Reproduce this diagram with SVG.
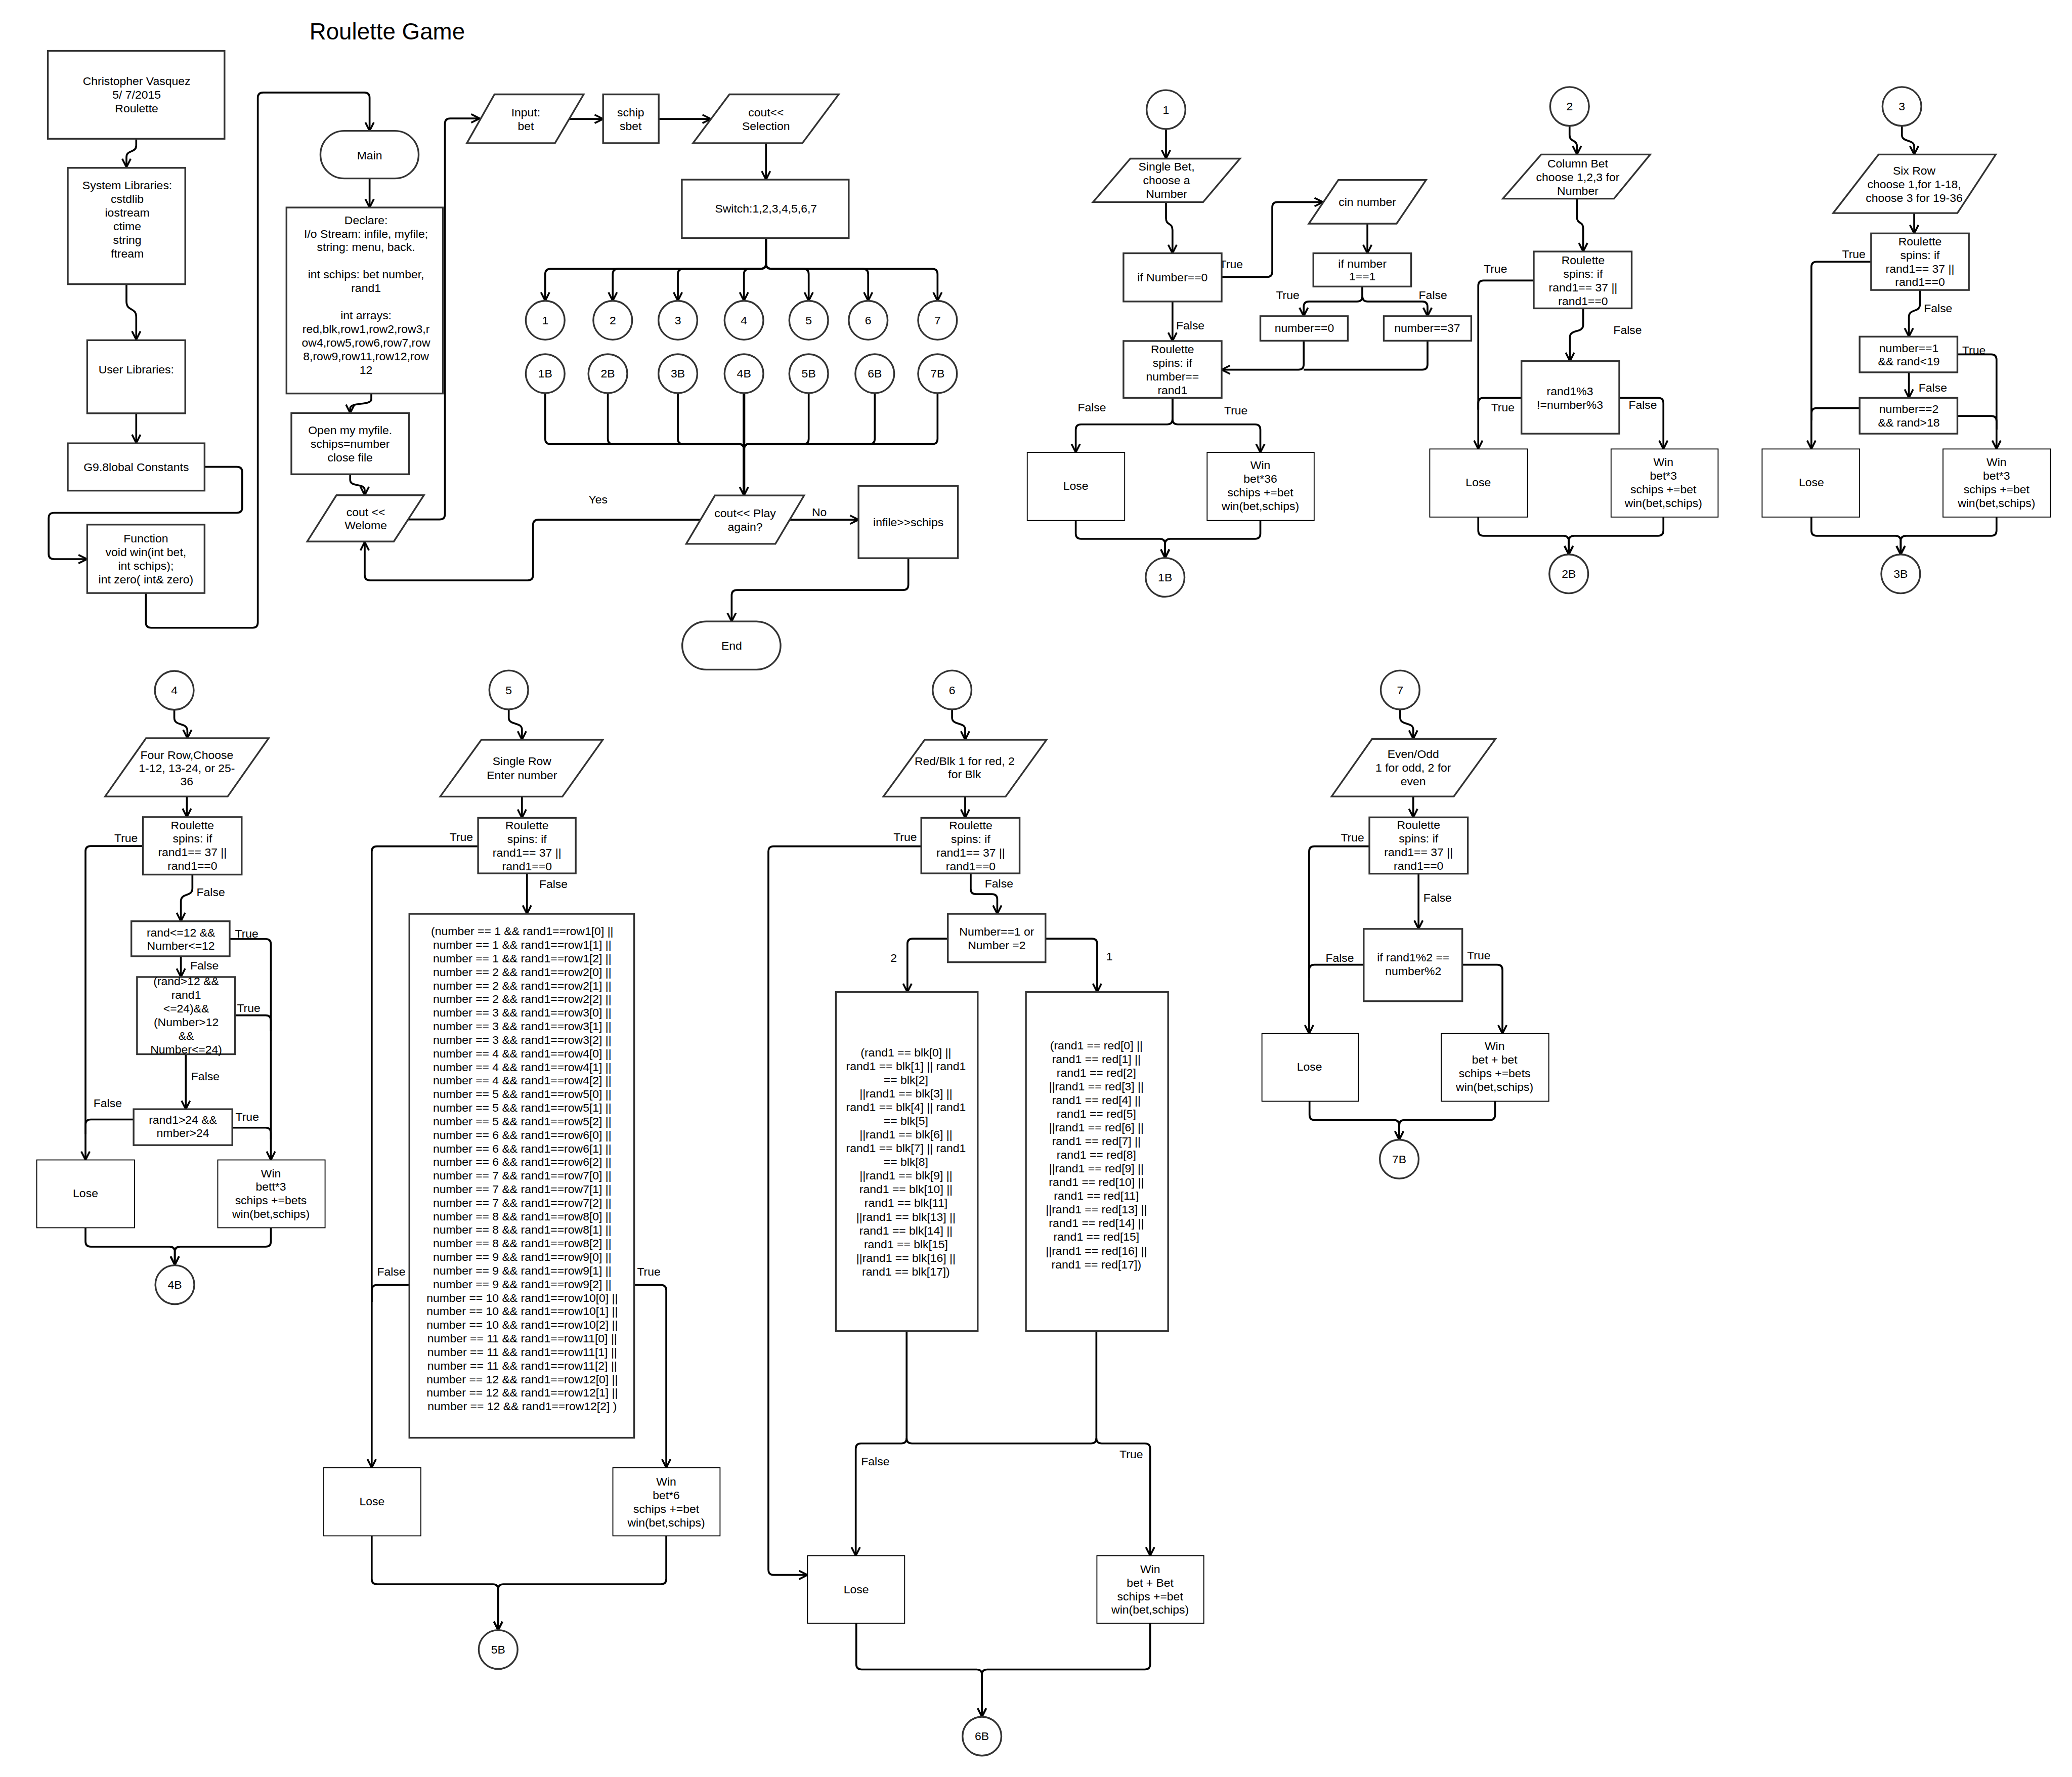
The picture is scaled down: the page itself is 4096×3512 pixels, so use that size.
<svg xmlns="http://www.w3.org/2000/svg" width="4096" height="3512" viewBox="0 0 4096 3512">
<defs>
<marker id="ah" markerUnits="userSpaceOnUse" viewBox="0 0 10 10" markerWidth="8" markerHeight="8" refX="9" refY="5" orient="auto">
<path d="M1,1 L9,5 L1,9" fill="none" stroke="#000" stroke-width="1.7" stroke-linejoin="miter"/>
</marker>
<style>
.n{fill:#fff;stroke:#333;stroke-width:1.3}
.w{fill:#fff;stroke:#000;stroke-width:0.7}
.c{fill:none;stroke:#000;stroke-width:1.4;marker-end:url(#ah)}
.l{fill:none;stroke:#000;stroke-width:1.4}
text{font-family:"Liberation Sans",Arial,Helvetica,sans-serif;font-size:8.8px;fill:#000;text-anchor:middle;dominant-baseline:central}
.title{font-size:17.5px}
</style>
</defs>
<rect x="0" y="0" width="4096" height="3512" fill="#fff"/>
<g transform="scale(2.6122)">
<g id="n-title"><text class="title" x="293" y="24">Roulette Game</text></g>

<g id="connectors">
<path class="c" d="M103.1 105 V110 C103.1 116 95.7 113 95.7 119 V126.5"/>
<path class="c" d="M95.7 215 V228 C95.7 236 103.1 232 103.1 240 V257"/>
<path class="c" d="M103.1 312.7 V335.2"/>
<path class="c" d="M154.8 353.2 H179.3 Q183.3 353.2 183.3 357.2 V384 Q183.3 388 179.3 388 H40.8 Q36.8 388 36.8 392 V419 Q36.8 423 40.8 423 H65.8"/>
<path class="c" d="M110.4 448.7 V471 Q110.4 475 114.4 475 H191.1 Q195.1 475 195.1 471 V74 Q195.1 70 199.1 70 H275.7 Q279.7 70 279.7 74 V99"/>
<path class="c" d="M279.7 135 V157"/>
<path class="c" d="M281 297.7 V302 C281 307 265 304 265 309 V312.5"/>
<path class="c" d="M265 358.8 V363 C265 369 276 365 276 371 V374.7"/>
<path class="c" d="M309 393 H332.7 Q336.7 393 336.7 389 V93.6 Q336.7 89.6 340.7 89.6 H363"/>
<path class="c" d="M430.8 90 H456.4"/>
<path class="c" d="M498.5 90 H538"/>
<path class="c" d="M579.7 108.3 V135.9"/>
<path class="c" d="M579.7 180.1 V199.4 Q579.7 203.4 575.7 203.4 H416.6 Q412.6 203.4 412.6 207.4 V227.6"/>
<path class="c" d="M579.7 180.1 V199.4 Q579.7 203.4 575.7 203.4 H467.7 Q463.7 203.4 463.7 207.4 V227.6"/>
<path class="c" d="M579.7 180.1 V199.4 Q579.7 203.4 575.7 203.4 H517 Q513 203.4 513 207.4 V227.6"/>
<path class="c" d="M579.7 180.1 V199.4 Q579.7 203.4 575.7 203.4 H567 Q563 203.4 563 207.4 V227.6"/>
<path class="c" d="M579.7 180.1 V199.4 Q579.7 203.4 583.7 203.4 H608 Q612 203.4 612 207.4 V227.6"/>
<path class="c" d="M579.7 180.1 V199.4 Q579.7 203.4 583.7 203.4 H653 Q657 203.4 657 207.4 V227.6"/>
<path class="c" d="M579.7 180.1 V199.4 Q579.7 203.4 583.7 203.4 H705.5 Q709.5 203.4 709.5 207.4 V227.6"/>
<path class="l" d="M412.6 297.4 V332 Q412.6 336 416.6 336 H559 Q563 336 563 340 V370"/>
<path class="l" d="M460 297.4 V332 Q460 336 464 336 H559 Q563 336 563 340 V370"/>
<path class="l" d="M513 297.4 V332 Q513 336 517 336 H559 Q563 336 563 340 V370"/>
<path class="l" d="M612 297.4 V332 Q612 336 608 336 H567 Q563 336 563 340 V370"/>
<path class="l" d="M662 297.4 V332 Q662 336 658 336 H567 Q563 336 563 340 V370"/>
<path class="l" d="M709.5 297.4 V332 Q709.5 336 705.5 336 H567 Q563 336 563 340 V370"/>
<path class="c" d="M563 297.4 V374.9" style="stroke-width:2"/>
<path class="c" d="M530.2 393.2 H407.4 Q403.4 393.2 403.4 397.2 V435.1 Q403.4 439.1 399.4 439.1 H280 Q276 439.1 276 435.1 V410"/>
<path class="c" d="M597.6 393.2 H649.7"/>
<path class="c" d="M687.4 422.3 V442.4 Q687.4 446.4 683.4 446.4 H557.7 Q553.7 446.4 553.7 450.4 V470.2"/>

<path class="c" d="M882.4 97.6 V120"/>
<path class="c" d="M882.4 146 V165 C882.4 171 887.3 168 887.3 174 V191.6"/>
<path class="c" d="M924.5 209.6 H958.8 Q962.8 209.6 962.8 205.6 V156.9 Q962.8 152.9 966.8 152.9 H1001.2"/>
<path class="c" d="M1034.8 169.2 V191.6"/>
<path class="c" d="M1031 216.8 V224.1 Q1031 228.1 1027 228.1 H990.6 Q986.6 228.1 986.6 232.1 V239.2"/>
<path class="c" d="M1031 216.8 V224.1 Q1031 228.1 1035 228.1 H1076.3 Q1080.3 228.1 1080.3 232.1 V239.2"/>
<path class="c" d="M986.6 257.8 V275.7 Q986.6 279.7 982.6 279.7 H924.5"/>
<path class="l" d="M1080.3 257.8 V275.7 Q1080.3 279.7 1076.3 279.7 H986.6"/>
<path class="c" d="M887.3 228.1 V258"/>
<path class="c" d="M887.3 301 V317.1 Q887.3 321.1 883.3 321.1 H818.1 Q814.1 321.1 814.1 325.1 V342.3"/>
<path class="c" d="M887.3 301 V317.1 Q887.3 321.1 891.3 321.1 H949.8 Q953.8 321.1 953.8 325.1 V342.3"/>
<path class="c" d="M814.1 393.8 V403.7 Q814.1 407.7 818.1 407.7 H877.7 Q881.7 407.7 881.7 411.7 V422.1"/>
<path class="c" d="M953.8 393.8 V403.7 Q953.8 407.7 949.8 407.7 H885.7 Q881.7 407.7 881.7 411.7 V422.1"/>

<path class="c" d="M1187.8 95.2 V102 C1187.8 108 1193.4 105 1193.4 111 V116.9"/>
<path class="c" d="M1193.4 150.3 V164 C1193.4 170 1198.1 167 1198.1 173 V190.3"/>
<path class="c" d="M1160.7 212.2 H1122.7 Q1118.7 212.2 1118.7 216.2 V339.7"/>
<path class="c" d="M1198.1 233.3 V246 C1198.1 252 1188.1 249 1188.1 255 V273.2"/>
<path class="l" d="M1151.4 301 H1122.7 Q1118.7 301 1118.7 305 V310"/>
<path class="c" d="M1225.4 301 H1254.8 Q1258.8 301 1258.8 305 V339.7"/>
<path class="c" d="M1118.7 391.2 V401.4 Q1118.7 405.4 1122.7 405.4 H1183.2 Q1187.2 405.4 1187.2 409.4 V419.5"/>
<path class="c" d="M1258.8 391.2 V401.4 Q1258.8 405.4 1254.8 405.4 H1191.2 Q1187.2 405.4 1187.2 409.4 V419.5"/>

<path class="c" d="M1439.3 95.2 V102 C1439.3 108 1448.6 105 1448.6 111 V116.9"/>
<path class="c" d="M1448.6 161.2 V176.6"/>
<path class="c" d="M1416 198 H1374.8 Q1370.8 198 1370.8 202 V339.7"/>
<path class="c" d="M1453 219.4 V230 C1453 237 1444.6 233 1444.6 240 V254.7"/>
<path class="c" d="M1481.3 268.1 H1506.9 Q1510.9 268.1 1510.9 272.1 V339.7"/>
<path class="c" d="M1444.6 281.7 V301"/>
<path class="l" d="M1407.3 308.8 H1374.8 Q1370.8 308.8 1370.8 312.8 V318"/>
<path class="l" d="M1481.3 314.7 H1506.9 Q1510.9 314.7 1510.9 318.7 V325"/>
<path class="c" d="M1370.8 391.2 V401.4 Q1370.8 405.4 1374.8 405.4 H1434.4 Q1438.4 405.4 1438.4 409.4 V419.5"/>
<path class="c" d="M1510.9 391.2 V401.4 Q1510.9 405.4 1506.9 405.4 H1442.4 Q1438.4 405.4 1438.4 409.4 V419.5"/>

<path class="c" d="M131.9 537 V543 C131.9 550 141.8 546 141.8 553 V558.5"/>
<path class="c" d="M141.4 602.6 V618.2"/>
<path class="c" d="M108.2 640.1 H68.7 Q64.7 640.1 64.7 644.1 V877.6"/>
<path class="c" d="M145.6 661.7 V672 C145.6 679 136.9 675 136.9 682 V697"/>
<path class="c" d="M173.8 710.4 H201 Q205 710.4 205 714.4 V877.6"/>
<path class="c" d="M136.9 723.5 V739.2"/>
<path class="l" d="M177.9 768.2 H201 Q205 768.2 205 772.2 V780"/>
<path class="c" d="M140.6 797.6 V839.2"/>
<path class="l" d="M101.1 847 H68.7 Q64.7 847 64.7 851 V858"/>
<path class="l" d="M175.8 853.2 H201 Q205 853.2 205 857.2 V862"/>
<path class="c" d="M64.7 928.9 V939.2 Q64.7 943.2 68.7 943.2 H128.3 Q132.3 943.2 132.3 947.2 V957"/>
<path class="c" d="M205 928.9 V939.2 Q205 943.2 201 943.2 H136.3 Q132.3 943.2 132.3 947.2 V957"/>

<path class="c" d="M385 537 V543 C385 549 395 546 395 552 V559.7"/>
<path class="c" d="M395 602.7 V618.8"/>
<path class="c" d="M361.8 640.3 H285.3 Q281.3 640.3 281.3 644.3 V1110.4"/>
<path class="c" d="M398.8 660.8 V691.4"/>
<path class="l" d="M309.8 972.2 H285.3 Q281.3 972.2 281.3 976.2 V985"/>
<path class="c" d="M479.9 972.2 H500.2 Q504.2 972.2 504.2 976.2 V1110.4"/>
<path class="c" d="M281.3 1162 V1194.6 Q281.3 1198.6 285.3 1198.6 H373 Q377 1198.6 377 1202.6 V1233.3"/>
<path class="c" d="M504.2 1162 V1194.6 Q504.2 1198.6 500.2 1198.6 H381 Q377 1198.6 377 1202.6 V1233.3"/>

<path class="c" d="M720.5 537 V543 C720.5 549 730.4 546 730.4 552 V559.7"/>
<path class="c" d="M730.4 602.7 V618.8"/>
<path class="c" d="M697.2 640.3 H585.5 Q581.5 640.3 581.5 644.3 V1187.6 Q581.5 1191.6 585.5 1191.6 H611.1"/>
<path class="c" d="M734.6 660.8 V672.5 Q734.6 676.5 738.6 676.5 H750.7 Q754.7 676.5 754.7 680.5 V691.4"/>
<path class="c" d="M717.3 710.2 H690.7 Q686.7 710.2 686.7 714.2 V750.6"/>
<path class="c" d="M791.2 710.2 H826.3 Q830.3 710.2 830.3 714.2 V750.6"/>
<path class="c" d="M686.1 1007.1 V1088.1 Q686.1 1092.1 682.1 1092.1 H651.6 Q647.6 1092.1 647.6 1096.1 V1177"/>
<path class="c" d="M829.7 1007.1 V1088.1 Q829.7 1092.1 833.7 1092.1 H866.4 Q870.4 1092.1 870.4 1096.1 V1177"/>
<path class="l" d="M686.1 1088.1 Q686.1 1092.1 690.1 1092.1 H825.7 Q829.7 1092.1 829.7 1088.1"/>
<path class="c" d="M648 1228.1 V1259.1 Q648 1263.1 652 1263.1 H739.1 Q743.1 1263.1 743.1 1267.1 V1298.9"/>
<path class="c" d="M870.4 1228.1 V1259.1 Q870.4 1263.1 866.4 1263.1 H747.1 Q743.1 1263.1 743.1 1267.1 V1298.9"/>

<path class="c" d="M1059.6 536.7 V543 C1059.6 549 1069.5 546 1069.5 552 V559"/>
<path class="c" d="M1069.5 602.6 V618.4"/>
<path class="c" d="M1036.3 640.3 H994.7 Q990.7 640.3 990.7 644.3 V782"/>
<path class="c" d="M1073.5 661 V702.8"/>
<path class="l" d="M1032 729.9 H994.7 Q990.7 729.9 990.7 733.9 V740"/>
<path class="c" d="M1106.6 729.9 H1133 Q1137 729.9 1137 733.9 V782"/>
<path class="c" d="M991 833.2 V843.4 Q991 847.4 995 847.4 H1054.9 Q1058.9 847.4 1058.9 851.4 V862.3"/>
<path class="c" d="M1131.4 833.2 V843.4 Q1131.4 847.4 1127.4 847.4 H1062.9 Q1058.9 847.4 1058.9 851.4 V862.3"/>
</g>

<g id="labels">
<text x="452.6" y="377.8">Yes</text>
<text x="620" y="387.4">No</text>
<text x="931.7" y="199.8">True</text>
<text x="974.5" y="223">True</text>
<text x="1084.4" y="223">False</text>
<text x="900.8" y="246.2">False</text>
<text x="826.3" y="308.3">False</text>
<text x="935.3" y="310.6">True</text>
<text x="1131.7" y="203.2">True</text>
<text x="1231.7" y="249.5">False</text>
<text x="1137.3" y="308.3">True</text>
<text x="1243.2" y="306.2">False</text>
<text x="1402.9" y="192.1">True</text>
<text x="1466.7" y="233.3">False</text>
<text x="1493.8" y="265">True</text>
<text x="1462.7" y="293.3">False</text>
<text x="95.4" y="633.9">True</text>
<text x="159.5" y="675.1">False</text>
<text x="186.7" y="706.4">True</text>
<text x="154.7" y="730.4">False</text>
<text x="188.2" y="762.6">True</text>
<text x="155.4" y="814.2">False</text>
<text x="81.5" y="834.5">False</text>
<text x="187.1" y="844.8">True</text>
<text x="349.1" y="633.3">True</text>
<text x="418.8" y="668.8">False</text>
<text x="296.1" y="962">False</text>
<text x="491" y="962">True</text>
<text x="685" y="633.3">True</text>
<text x="756" y="668.3">False</text>
<text x="676.3" y="724.8">2</text>
<text x="839.6" y="723.7">1</text>
<text x="662.4" y="1105.5">False</text>
<text x="856.1" y="1100.1">True</text>
<text x="1023.5" y="633.6">True</text>
<text x="1087.9" y="679">False</text>
<text x="1013.9" y="724.7">False</text>
<text x="1119.1" y="722.9">True</text>
</g>

<g id="n-header"><rect class="n" x="36.2" y="38.5" width="133.7" height="66.5"/><text x="103.4" y="61.3">Christopher Vasquez<tspan x="103.4" dy="10.3">5/ 7/2015</tspan><tspan x="103.4" dy="10.3">Roulette</tspan></text></g>
<g id="n-syslib"><rect class="n" x="51.3" y="127" width="88.9" height="88"/><text x="96.3" y="140.3">System Libraries:<tspan x="96.3" dy="10.3">cstdlib</tspan><tspan x="96.3" dy="10.3">iostream</tspan><tspan x="96.3" dy="10.3">ctime</tspan><tspan x="96.3" dy="10.3">string</tspan><tspan x="96.3" dy="10.3">ftream</tspan></text></g>
<g id="n-userlib"><rect class="n" x="66" y="257.4" width="74.2" height="55.3"/><text x="103.1" y="279.5">User Libraries:</text></g>
<g id="n-global"><rect class="n" x="51.3" y="335.4" width="103.5" height="35.8"/><text x="103.1" y="353.2">G9.8lobal Constants</text></g>
<g id="n-function"><rect class="n" x="66" y="396.9" width="88.8" height="51.8"/><text x="110.4" y="407.3">Function<tspan x="110.4" dy="10.3">void win(int bet,</tspan><tspan x="110.4" dy="10.3">int schips);</tspan><tspan x="110.4" dy="10.3">int zero( int&amp; zero)</tspan></text></g>
<g id="n-main"><rect class="n" x="242.5" y="99" width="74.3" height="36" rx="18" ry="18"/><text x="279.7" y="117.5">Main</text></g>
<g id="n-declare"><rect class="n" x="216.8" y="157" width="118.4" height="140.7"/><text x="277" y="166.4">Declare:<tspan x="277" dy="10.3">I/o Stream: infile, myfile;</tspan><tspan x="277" dy="10.3">string: menu, back.</tspan><tspan x="277" dy="20.6">int schips: bet  number,</tspan><tspan x="277" dy="10.3">rand1</tspan><tspan x="277" dy="20.6">int arrays:</tspan><tspan x="277" dy="10.3">red,blk,row1,row2,row3,r</tspan><tspan x="277" dy="10.3">ow4,row5,row6,row7,row</tspan><tspan x="277" dy="10.3">8,row9,row11,row12,row</tspan><tspan x="277" dy="10.3">12</tspan></text></g>
<g id="n-open"><rect class="n" x="220.5" y="312.5" width="89" height="46.3"/><text x="265" y="325.5">Open my myfile.<tspan x="265" dy="10.3">schips=number</tspan><tspan x="265" dy="10.3">close file</tspan></text></g>
<g id="n-welcome"><polygon class="n" points="232.5,409.7 254.6,374.7 320.8,374.7 298,409.7"/><text x="276.8" y="387.6">cout &lt;&lt;<tspan x="276.8" dy="9.9">Welome</tspan></text></g>
<g id="n-input"><polygon class="n" points="353.3,108.3 374.2,71.4 441.7,71.4 420,108.3"/><text x="397.9" y="85">Input:<tspan x="397.9" dy="10.2">bet</tspan></text></g>
<g id="n-schip"><rect class="n" x="456.4" y="71.4" width="42.1" height="36.9"/><text x="477.3" y="85">schip<tspan x="477.3" dy="10.2">sbet</tspan></text></g>
<g id="n-selection"><polygon class="n" points="524.4,108.3 552,71.4 634.7,71.4 607.2,108.3"/><text x="579.7" y="85">cout&lt;&lt;<tspan x="579.7" dy="10.2">Selection</tspan></text></g>
<g id="n-switch"><rect class="n" x="516" y="135.9" width="126.3" height="44.2"/><text x="579.7" y="157.7">Switch:1,2,3,4,5,6,7</text></g>
<g id="n-c1"><circle class="n" cx="412.6" cy="242.3" r="14.7"/><text x="412.6" y="242.3">1</text></g>
<g id="n-c2"><circle class="n" cx="463.7" cy="242.3" r="14.7"/><text x="463.7" y="242.3">2</text></g>
<g id="n-c3"><circle class="n" cx="513" cy="242.3" r="14.7"/><text x="513" y="242.3">3</text></g>
<g id="n-c4"><circle class="n" cx="563" cy="242.3" r="14.7"/><text x="563" y="242.3">4</text></g>
<g id="n-c5"><circle class="n" cx="612" cy="242.3" r="14.7"/><text x="612" y="242.3">5</text></g>
<g id="n-c6"><circle class="n" cx="657" cy="242.3" r="14.7"/><text x="657" y="242.3">6</text></g>
<g id="n-c7"><circle class="n" cx="709.5" cy="242.3" r="14.7"/><text x="709.5" y="242.3">7</text></g>
<g id="n-c1b"><circle class="n" cx="412.6" cy="282.7" r="14.7"/><text x="412.6" y="282.7">1B</text></g>
<g id="n-c2b"><circle class="n" cx="460" cy="282.7" r="14.7"/><text x="460" y="282.7">2B</text></g>
<g id="n-c3b"><circle class="n" cx="513" cy="282.7" r="14.7"/><text x="513" y="282.7">3B</text></g>
<g id="n-c4b"><circle class="n" cx="563" cy="282.7" r="14.7"/><text x="563" y="282.7">4B</text></g>
<g id="n-c5b"><circle class="n" cx="612" cy="282.7" r="14.7"/><text x="612" y="282.7">5B</text></g>
<g id="n-c6b"><circle class="n" cx="662" cy="282.7" r="14.7"/><text x="662" y="282.7">6B</text></g>
<g id="n-c7b"><circle class="n" cx="709.5" cy="282.7" r="14.7"/><text x="709.5" y="282.7">7B</text></g>
<g id="n-play"><polygon class="n" points="519.3,411.5 541,374.9 608.5,374.9 586.8,411.5"/><text x="563.9" y="388.3">cout&lt;&lt; Play<tspan x="563.9" dy="10.1">again?</tspan></text></g>
<g id="n-infile"><rect class="n" x="649.7" y="367.6" width="75.2" height="54.7"/><text x="687.4" y="395.2">infile&gt;&gt;schips</text></g>
<g id="n-end"><rect class="n" x="516.3" y="470.2" width="74.4" height="36.4" rx="18.2" ry="18.2"/><text x="553.7" y="488.6">End</text></g>

<g id="n-s1-start"><circle class="n" cx="882.4" cy="82.9" r="14.7"/><text x="882.4" y="82.9">1</text></g>
<g id="n-s1-input"><polygon class="n" points="827.2,152.9 855.4,120 938.4,120 910.5,152.9"/><text x="882.8" y="125.9">Single Bet,<tspan x="882.8" dy="10.3">choose a</tspan><tspan x="882.8" dy="10.3">Number</tspan></text></g>
<g id="n-s1-if0"><rect class="n" x="850.2" y="191.6" width="74.3" height="36.5"/><text x="887.3" y="209.6">if Number==0</text></g>
<g id="n-s1-cin"><polygon class="n" points="990.5,169.2 1012.8,136.2 1079.2,136.2 1056.9,169.2"/><text x="1034.8" y="152.9">cin number</text></g>
<g id="n-s1-if1"><rect class="n" x="993.9" y="191.6" width="74" height="25.2"/><text x="1031" y="199.3">if number<tspan x="1031" dy="9.8">1==1</tspan></text></g>
<g id="n-s1-n0"><rect class="n" x="953.8" y="239.2" width="66.2" height="18.6"/><text x="987.1" y="248.2">number==0</text></g>
<g id="n-s1-n37"><rect class="n" x="1047.2" y="239.2" width="66.2" height="18.6"/><text x="1080.1" y="248.2">number==37</text></g>
<g id="n-s1-spin"><rect class="n" x="850.2" y="258" width="74.3" height="43"/><text x="887.3" y="264.2">Roulette<tspan x="887.3" dy="10.3">spins: if</tspan><tspan x="887.3" dy="10.3">number==</tspan><tspan x="887.3" dy="10.3">rand1</tspan></text></g>
<g id="n-s1-lose"><rect class="w" x="777.4" y="342.3" width="73.7" height="51.5"/><text x="814.1" y="367.5">Lose</text></g>
<g id="n-s1-win"><rect class="w" x="913.5" y="342.3" width="81" height="51.5"/><text x="953.8" y="352">Win<tspan x="953.8" dy="10.3">bet*36</tspan><tspan x="953.8" dy="10.3">schips +=bet</tspan><tspan x="953.8" dy="10.3">win(bet,schips)</tspan></text></g>
<g id="n-s1-end"><circle class="n" cx="881.7" cy="436.8" r="14.7"/><text x="881.7" y="436.8">1B</text></g>

<g id="n-s2-start"><circle class="n" cx="1187.8" cy="80.5" r="14.7"/><text x="1187.8" y="80.5">2</text></g>
<g id="n-s2-input"><polygon class="n" points="1137.3,150.3 1166.3,116.9 1248.8,116.9 1221.4,150.3"/><text x="1194" y="123.6">Column Bet<tspan x="1194" dy="10.3">choose  1,2,3 for</tspan><tspan x="1194" dy="10.3">Number</tspan></text></g>
<g id="n-s2-spin"><rect class="n" x="1160.7" y="190.3" width="74.1" height="43"/><text x="1198" y="196.7">Roulette<tspan x="1198" dy="10.3">spins: if</tspan><tspan x="1198" dy="10.3">rand1== 37 ||</tspan><tspan x="1198" dy="10.3">rand1==0</tspan></text></g>
<g id="n-s2-mod"><rect class="n" x="1151.4" y="273.2" width="74" height="54.9"/><text x="1188.1" y="295.9">rand1%3<tspan x="1188.1" dy="10.3">!=number%3</tspan></text></g>
<g id="n-s2-lose"><rect class="w" x="1082" y="339.7" width="74" height="51.5"/><text x="1118.7" y="364.9">Lose</text></g>
<g id="n-s2-win"><rect class="w" x="1219.2" y="339.7" width="81" height="51.5"/><text x="1258.8" y="349.5">Win<tspan x="1258.8" dy="10.3">bet*3</tspan><tspan x="1258.8" dy="10.3">schips +=bet</tspan><tspan x="1258.8" dy="10.3">win(bet,schips)</tspan></text></g>
<g id="n-s2-end"><circle class="n" cx="1187.2" cy="434.2" r="14.7"/><text x="1187.2" y="434.2">2B</text></g>

<g id="n-s3-start"><circle class="n" cx="1439.3" cy="80.5" r="14.7"/><text x="1439.3" y="80.5">3</text></g>
<g id="n-s3-input"><polygon class="n" points="1387.3,161.2 1421.6,116.9 1510.3,116.9 1481.3,161.2"/><text x="1448.6" y="129">Six Row<tspan x="1448.6" dy="10.3">choose  1,for 1-18,</tspan><tspan x="1448.6" dy="10.3">choose 3 for 19-36</tspan></text></g>
<g id="n-s3-spin"><rect class="n" x="1416" y="176.6" width="74" height="42.8"/><text x="1453" y="182.5">Roulette<tspan x="1453" dy="10.3">spins: if</tspan><tspan x="1453" dy="10.3">rand1== 37 ||</tspan><tspan x="1453" dy="10.3">rand1==0</tspan></text></g>
<g id="n-s3-n1"><rect class="n" x="1407.3" y="254.7" width="74" height="27"/><text x="1444.6" y="263.2">number==1<tspan x="1444.6" dy="10">&amp;&amp; rand&lt;19</tspan></text></g>
<g id="n-s3-n2"><rect class="n" x="1407.3" y="301" width="74" height="27.1"/><text x="1444.6" y="309.5">number==2<tspan x="1444.6" dy="10.3">&amp;&amp; rand&gt;18</tspan></text></g>
<g id="n-s3-lose"><rect class="w" x="1333.5" y="339.7" width="73.8" height="51.5"/><text x="1370.8" y="364.9">Lose</text></g>
<g id="n-s3-win"><rect class="w" x="1470.4" y="339.7" width="81.3" height="51.5"/><text x="1510.9" y="349.5">Win<tspan x="1510.9" dy="10.3">bet*3</tspan><tspan x="1510.9" dy="10.3">schips +=bet</tspan><tspan x="1510.9" dy="10.3">win(bet,schips)</tspan></text></g>
<g id="n-s3-end"><circle class="n" cx="1438.4" cy="434.2" r="14.7"/><text x="1438.4" y="434.2">3B</text></g>

<g id="n-s4-start"><circle class="n" cx="131.9" cy="522.3" r="14.7"/><text x="131.9" y="522.3">4</text></g>
<g id="n-s4-input"><polygon class="n" points="79.5,602.6 110.5,558.5 203.3,558.5 172.3,602.6"/><text x="141.4" y="571">Four Row,Choose<tspan x="141.4" dy="10">1-12, 13-24, or 25-</tspan><tspan x="141.4" dy="10">36</tspan></text></g>
<g id="n-s4-spin"><rect class="n" x="108.2" y="618.2" width="74.7" height="43.5"/><text x="145.6" y="624.2">Roulette<tspan x="145.6" dy="10.3">spins: if</tspan><tspan x="145.6" dy="10.3">rand1== 37 ||</tspan><tspan x="145.6" dy="10.3">rand1==0</tspan></text></g>
<g id="n-s4-c1"><rect class="n" x="99.4" y="697" width="74.4" height="26.5"/><text x="136.9" y="705.4">rand&lt;=12 &amp;&amp;<tspan x="136.9" dy="9.9">Number&lt;=12</tspan></text></g>
<g id="n-s4-c2"><rect class="n" x="103.7" y="739.2" width="74.2" height="58.4"/><text x="140.9" y="742.3">(rand&gt;12 &amp;&amp;<tspan x="140.9" dy="10.3">rand1</tspan><tspan x="140.9" dy="10.3">&lt;=24)&amp;&amp;</tspan><tspan x="140.9" dy="10.3">(Number&gt;12</tspan><tspan x="140.9" dy="10.3">&amp;&amp;</tspan><tspan x="140.9" dy="10.3">Number&lt;=24)</tspan></text></g>
<g id="n-s4-c3"><rect class="n" x="101.1" y="839.2" width="74.7" height="27.2"/><text x="138.4" y="847">rand1&gt;24 &amp;&amp;<tspan x="138.4" dy="10.3">nmber&gt;24</tspan></text></g>
<g id="n-s4-lose"><rect class="w" x="27.8" y="877.6" width="74" height="51.3"/><text x="64.7" y="902.6">Lose</text></g>
<g id="n-s4-win"><rect class="w" x="164.8" y="877.6" width="81.2" height="51.3"/><text x="205" y="887.6">Win<tspan x="205" dy="10.3">bett*3</tspan><tspan x="205" dy="10.3">schips +=bets</tspan><tspan x="205" dy="10.3">win(bet,schips)</tspan></text></g>
<g id="n-s4-end"><circle class="n" cx="132.3" cy="972" r="14.7"/><text x="132.3" y="972">4B</text></g>

<g id="n-s5-start"><circle class="n" cx="385" cy="522" r="14.7"/><text x="385" y="522">5</text></g>
<g id="n-s5-input"><polygon class="n" points="333.1,602.7 364.3,559.7 456.2,559.7 425.6,602.7"/><text x="395" y="575.8">Single Row<tspan x="395" dy="10.5">Enter number</tspan></text></g>
<g id="n-s5-spin"><rect class="n" x="361.8" y="618.8" width="73.9" height="42"/><text x="398.8" y="624.2">Roulette<tspan x="398.8" dy="10.4">spins: if</tspan><tspan x="398.8" dy="10.4">rand1== 37 ||</tspan><tspan x="398.8" dy="10.4">rand1==0</tspan></text></g>
<g id="n-s5-rows"><rect class="n" x="309.8" y="691.4" width="170.1" height="396.4"/><text x="395.2" y="704.5">(number == 1 &amp;&amp; rand1==row1[0] ||<tspan x="395.2" dy="10.27">number == 1 &amp;&amp; rand1==row1[1] ||</tspan><tspan x="395.2" dy="10.27">number == 1 &amp;&amp; rand1==row1[2] ||</tspan><tspan x="395.2" dy="10.27">number == 2 &amp;&amp; rand1==row2[0] ||</tspan><tspan x="395.2" dy="10.27">number == 2 &amp;&amp; rand1==row2[1] ||</tspan><tspan x="395.2" dy="10.27">number == 2 &amp;&amp; rand1==row2[2] ||</tspan><tspan x="395.2" dy="10.27">number == 3 &amp;&amp; rand1==row3[0] ||</tspan><tspan x="395.2" dy="10.27">number == 3 &amp;&amp; rand1==row3[1] ||</tspan><tspan x="395.2" dy="10.27">number == 3 &amp;&amp; rand1==row3[2] ||</tspan><tspan x="395.2" dy="10.27">number == 4 &amp;&amp; rand1==row4[0] ||</tspan><tspan x="395.2" dy="10.27">number == 4 &amp;&amp; rand1==row4[1] ||</tspan><tspan x="395.2" dy="10.27">number == 4 &amp;&amp; rand1==row4[2] ||</tspan><tspan x="395.2" dy="10.27">number == 5 &amp;&amp; rand1==row5[0] ||</tspan><tspan x="395.2" dy="10.27">number == 5 &amp;&amp; rand1==row5[1] ||</tspan><tspan x="395.2" dy="10.27">number == 5 &amp;&amp; rand1==row5[2] ||</tspan><tspan x="395.2" dy="10.27">number == 6 &amp;&amp; rand1==row6[0] ||</tspan><tspan x="395.2" dy="10.27">number == 6 &amp;&amp; rand1==row6[1] ||</tspan><tspan x="395.2" dy="10.27">number == 6 &amp;&amp; rand1==row6[2] ||</tspan><tspan x="395.2" dy="10.27">number == 7 &amp;&amp; rand1==row7[0] ||</tspan><tspan x="395.2" dy="10.27">number == 7 &amp;&amp; rand1==row7[1] ||</tspan><tspan x="395.2" dy="10.27">number == 7 &amp;&amp; rand1==row7[2] ||</tspan><tspan x="395.2" dy="10.27">number == 8 &amp;&amp; rand1==row8[0] ||</tspan><tspan x="395.2" dy="10.27">number == 8 &amp;&amp; rand1==row8[1] ||</tspan><tspan x="395.2" dy="10.27">number == 8 &amp;&amp; rand1==row8[2] ||</tspan><tspan x="395.2" dy="10.27">number == 9 &amp;&amp; rand1==row9[0] ||</tspan><tspan x="395.2" dy="10.27">number == 9 &amp;&amp; rand1==row9[1] ||</tspan><tspan x="395.2" dy="10.27">number == 9 &amp;&amp; rand1==row9[2] ||</tspan><tspan x="395.2" dy="10.27">number == 10 &amp;&amp; rand1==row10[0] ||</tspan><tspan x="395.2" dy="10.27">number == 10 &amp;&amp; rand1==row10[1] ||</tspan><tspan x="395.2" dy="10.27">number == 10 &amp;&amp; rand1==row10[2] ||</tspan><tspan x="395.2" dy="10.27">number == 11 &amp;&amp; rand1==row11[0] ||</tspan><tspan x="395.2" dy="10.27">number == 11 &amp;&amp; rand1==row11[1] ||</tspan><tspan x="395.2" dy="10.27">number == 11 &amp;&amp; rand1==row11[2] ||</tspan><tspan x="395.2" dy="10.27">number == 12 &amp;&amp; rand1==row12[0] ||</tspan><tspan x="395.2" dy="10.27">number == 12 &amp;&amp; rand1==row12[1] ||</tspan><tspan x="395.2" dy="10.27">number == 12 &amp;&amp; rand1==row12[2] )</tspan></text></g>
<g id="n-s5-lose"><rect class="w" x="245" y="1110.4" width="73.5" height="51.6"/><text x="281.5" y="1136">Lose</text></g>
<g id="n-s5-win"><rect class="w" x="463.8" y="1110.4" width="81.1" height="51.6"/><text x="504.2" y="1121">Win<tspan x="504.2" dy="10.3">bet*6</tspan><tspan x="504.2" dy="10.3">schips +=bet</tspan><tspan x="504.2" dy="10.3">win(bet,schips)</tspan></text></g>
<g id="n-s5-end"><circle class="n" cx="377" cy="1248" r="14.7"/><text x="377" y="1248">5B</text></g>

<g id="n-s6-start"><circle class="n" cx="720.5" cy="522" r="14.7"/><text x="720.5" y="522">6</text></g>
<g id="n-s6-input"><polygon class="n" points="668.5,602.7 699.8,559.7 792,559.7 761,602.7"/><text x="730" y="575.8">Red/Blk 1 for red, 2<tspan x="730" dy="10">for Blk</tspan></text></g>
<g id="n-s6-spin"><rect class="n" x="697.2" y="618.8" width="74.4" height="42"/><text x="734.6" y="624.2">Roulette<tspan x="734.6" dy="10.4">spins: if</tspan><tspan x="734.6" dy="10.4">rand1== 37 ||</tspan><tspan x="734.6" dy="10.4">rand1==0</tspan></text></g>
<g id="n-s6-choice"><rect class="n" x="717.3" y="691.4" width="73.9" height="36.6"/><text x="754.3" y="704.9">Number==1 or<tspan x="754.3" dy="10.2">Number =2</tspan></text></g>
<g id="n-s6-blk"><rect class="n" x="632.6" y="750.6" width="107.3" height="256.5"/><text x="685.6" y="796.3">(rand1 == blk[0] ||<tspan x="685.6" dy="10.35">rand1 == blk[1] || rand1</tspan><tspan x="685.6" dy="10.35">== blk[2]</tspan><tspan x="685.6" dy="10.35">||rand1 == blk[3] ||</tspan><tspan x="685.6" dy="10.35">rand1 == blk[4] || rand1</tspan><tspan x="685.6" dy="10.35">== blk[5]</tspan><tspan x="685.6" dy="10.35">||rand1 == blk[6] ||</tspan><tspan x="685.6" dy="10.35">rand1 == blk[7] || rand1</tspan><tspan x="685.6" dy="10.35">== blk[8]</tspan><tspan x="685.6" dy="10.35">||rand1 == blk[9] ||</tspan><tspan x="685.6" dy="10.35">rand1 == blk[10] ||</tspan><tspan x="685.6" dy="10.35">rand1 == blk[11]</tspan><tspan x="685.6" dy="10.35">||rand1 == blk[13] ||</tspan><tspan x="685.6" dy="10.35">rand1 == blk[14] ||</tspan><tspan x="685.6" dy="10.35">rand1 == blk[15]</tspan><tspan x="685.6" dy="10.35">||rand1 == blk[16] ||</tspan><tspan x="685.6" dy="10.35">rand1 == blk[17])</tspan></text></g>
<g id="n-s6-red"><rect class="n" x="776.4" y="750.6" width="107.6" height="256.5"/><text x="829.7" y="790.9">(rand1 == red[0] ||<tspan x="829.7" dy="10.35">rand1 == red[1] ||</tspan><tspan x="829.7" dy="10.35">rand1 == red[2]</tspan><tspan x="829.7" dy="10.35">||rand1 == red[3] ||</tspan><tspan x="829.7" dy="10.35">rand1 == red[4] ||</tspan><tspan x="829.7" dy="10.35">rand1 == red[5]</tspan><tspan x="829.7" dy="10.35">||rand1 == red[6] ||</tspan><tspan x="829.7" dy="10.35">rand1 == red[7] ||</tspan><tspan x="829.7" dy="10.35">rand1 == red[8]</tspan><tspan x="829.7" dy="10.35">||rand1 == red[9] ||</tspan><tspan x="829.7" dy="10.35">rand1 == red[10] ||</tspan><tspan x="829.7" dy="10.35">rand1 == red[11]</tspan><tspan x="829.7" dy="10.35">||rand1 == red[13] ||</tspan><tspan x="829.7" dy="10.35">rand1 == red[14] ||</tspan><tspan x="829.7" dy="10.35">rand1 == red[15]</tspan><tspan x="829.7" dy="10.35">||rand1 == red[16] ||</tspan><tspan x="829.7" dy="10.35">rand1 == red[17])</tspan></text></g>
<g id="n-s6-lose"><rect class="w" x="611.1" y="1177" width="73.5" height="51.1"/><text x="648" y="1202.3">Lose</text></g>
<g id="n-s6-win"><rect class="w" x="830.1" y="1177" width="80.9" height="51.1"/><text x="870.4" y="1187.3">Win<tspan x="870.4" dy="10.2">bet + Bet</tspan><tspan x="870.4" dy="10.2">schips +=bet</tspan><tspan x="870.4" dy="10.2">win(bet,schips)</tspan></text></g>
<g id="n-s6-end"><circle class="n" cx="743.1" cy="1313.6" r="14.7"/><text x="743.1" y="1313.6">6B</text></g>

<g id="n-s7-start"><circle class="n" cx="1059.6" cy="522" r="14.7"/><text x="1059.6" y="522">7</text></g>
<g id="n-s7-input"><polygon class="n" points="1007.7,602.6 1038.4,559 1131.8,559 1100.2,602.6"/><text x="1069.5" y="570.3">Even/Odd<tspan x="1069.5" dy="10.3">1 for odd, 2 for</tspan><tspan x="1069.5" dy="10.3">even</tspan></text></g>
<g id="n-s7-spin"><rect class="n" x="1036.3" y="618.4" width="74.5" height="42.6"/><text x="1073.5" y="624">Roulette<tspan x="1073.5" dy="10.3">spins: if</tspan><tspan x="1073.5" dy="10.3">rand1== 37 ||</tspan><tspan x="1073.5" dy="10.3">rand1==0</tspan></text></g>
<g id="n-s7-mod"><rect class="n" x="1032" y="702.8" width="74.6" height="54.7"/><text x="1069.5" y="724.2">if rand1%2 ==<tspan x="1069.5" dy="10.3">number%2</tspan></text></g>
<g id="n-s7-lose"><rect class="w" x="955" y="782" width="73" height="51.2"/><text x="991" y="806.8">Lose</text></g>
<g id="n-s7-win"><rect class="w" x="1090.7" y="782" width="81.4" height="51.2"/><text x="1131.1" y="791.4">Win<tspan x="1131.1" dy="10.3">bet + bet</tspan><tspan x="1131.1" dy="10.3">schips +=bets</tspan><tspan x="1131.1" dy="10.3">win(bet,schips)</tspan></text></g>
<g id="n-s7-end"><circle class="n" cx="1058.9" cy="877" r="14.7"/><text x="1058.9" y="877">7B</text></g>
</g>
</svg>
